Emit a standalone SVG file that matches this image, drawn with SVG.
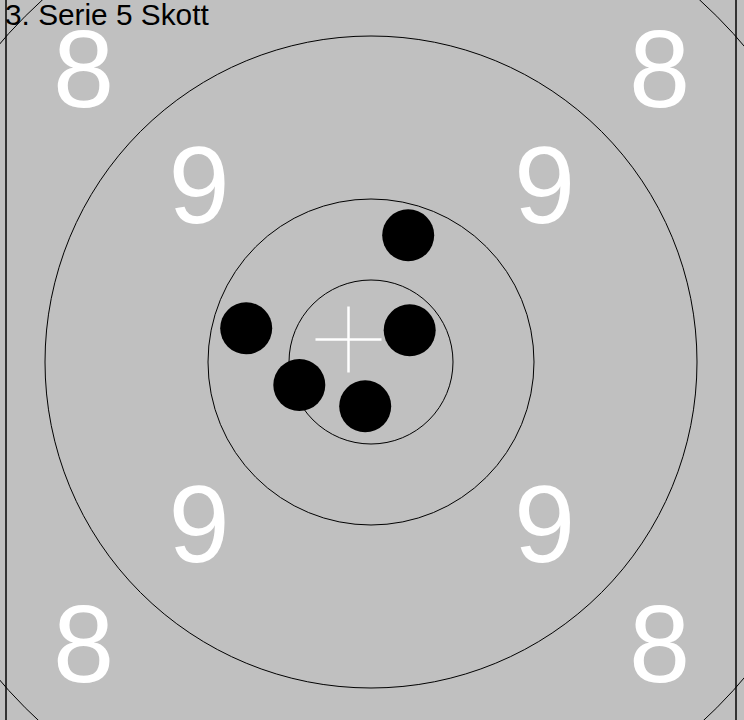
<svg xmlns="http://www.w3.org/2000/svg" width="744" height="720" viewBox="0 0 744 720">
<style>
.ring{fill:none;stroke:#000;stroke-width:1}
.num{fill:#fff;font-family:"Liberation Sans",Arial,sans-serif;font-size:110px;text-anchor:middle}
.shot{fill:#000}
.frame{stroke:#333;stroke-width:2}
.cross{stroke:#fff;stroke-width:2.5}
</style>
<rect x="0" y="0" width="744" height="720" fill="#c0c0c0"/>
<g id="frame">
<line class="frame" x1="6" y1="0" x2="6" y2="720"/>
<line class="frame" x1="736" y1="0" x2="736" y2="720"/>
</g>
<g id="rings">
<circle class="ring" cx="371" cy="362" r="489"/>
<circle class="ring" cx="371" cy="362" r="326"/>
<circle class="ring" cx="371" cy="362" r="163"/>
<circle class="ring" cx="371" cy="362" r="82"/>
</g>
<g id="labels">
<text class="num" x="83.5" y="107">8</text>
<text class="num" x="659.5" y="107">8</text>
<text class="num" x="83.5" y="682">8</text>
<text class="num" x="659.5" y="682">8</text>
<text class="num" x="199" y="223">9</text>
<text class="num" x="544.5" y="223">9</text>
<text class="num" x="199" y="562">9</text>
<text class="num" x="544.5" y="562">9</text>
</g>
<g id="cross">
<line class="cross" x1="315.5" y1="339.5" x2="381.5" y2="339.5"/>
<line class="cross" x1="348.5" y1="306.5" x2="348.5" y2="372.5"/>
</g>
<g id="shots">
<circle class="shot" cx="408.2" cy="235.3" r="26"/>
<circle class="shot" cx="246.2" cy="328.3" r="26"/>
<circle class="shot" cx="409.7" cy="330.3" r="26"/>
<circle class="shot" cx="299.3" cy="385" r="26"/>
<circle class="shot" cx="365.2" cy="406.3" r="26"/>
</g>
<text x="5" y="24.5" font-family="'Liberation Sans', Arial, sans-serif" font-size="29.8" fill="#000">3. Serie 5 Skott</text>
</svg>
